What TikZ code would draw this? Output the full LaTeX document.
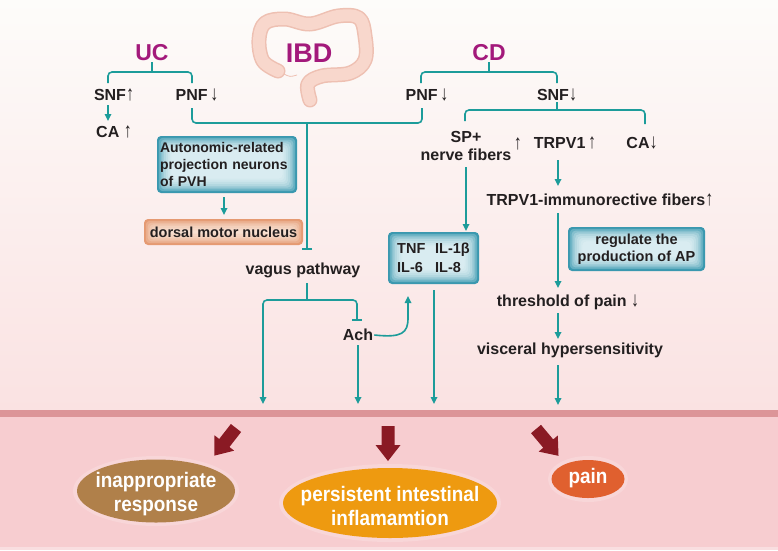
\documentclass[tikz,border=0pt]{standalone}
\usepackage{graphicx}
\usepackage{fontspec}
\setmainfont{Liberation Sans}
\newfontfamily\narrowfont[FakeStretch=0.9]{Liberation Sans}
\usetikzlibrary{arrows.meta,calc,shapes.geometric}
\newcommand\myup{\scalebox{1}[1.3]{↑}}
\newcommand\mydown{\scalebox{1}[1.3]{↓}}
\definecolor{teal1}{HTML}{1C9C9A}
\definecolor{mag}{HTML}{A3197B}
\definecolor{txt}{HTML}{231F20}
\definecolor{darkred}{HTML}{8A1A24}
\definecolor{boxout}{HTML}{3A98AF}
\definecolor{boxin}{HTML}{F0F9FB}
\definecolor{orout}{HTML}{E59A72}
\definecolor{orin}{HTML}{FCEDE2}
\definecolor{bgtop}{HTML}{FDFCFA}
\definecolor{bgmid}{HTML}{F7EBE5}
\definecolor{bgbot}{HTML}{FAE2E2}
\definecolor{lowbg}{HTML}{F7CDD0}
\definecolor{band}{HTML}{DC9598}
\definecolor{colonf}{HTML}{F8D7CC}
\definecolor{colone}{HTML}{EEC0B2}
\definecolor{brownell}{HTML}{B0804A}
\definecolor{orangeell}{HTML}{EE9A10}
\definecolor{painell}{HTML}{E0602F}
\tikzset{
  bigarrow/.pic={\fill[darkred] (-6.5,0) -- (6.5,0) -- (6.5,19) -- (12.5,19) -- (0,35) -- (-12.5,19) -- (-6.5,19) -- cycle;},
  glowbox/.style n args={2}{rounded corners=4pt, fill=#1,
    path picture={\foreach \i in {1,...,8}{\fill[#2, opacity=0.24, rounded corners=4pt] ([shift={(\i*1.8pt,\i*1.8pt)}]path picture bounding box.south west) rectangle ([shift={(-\i*1.8pt,-\i*1.8pt)}]path picture bounding box.north east);}}}
}
\begin{document}
\begin{tikzpicture}[x=1pt,y=-1pt,
  lbl/.style={font=\fontsize{16}{18}\selectfont\bfseries, text=txt, inner sep=1pt},
  ttl/.style={font=\fontsize{23}{26}\selectfont\bfseries, text=mag, inner sep=1pt},
  conn/.style={draw=teal1, line width=1.6pt, rounded corners=4pt},
  arr/.style={conn, -{Triangle[length=7pt,width=6.5pt]}},
  inh/.style={conn, -{Bar[width=10pt,line width=1.6pt]}},
  bluebox/.style={glowbox={boxout}{boxin}, font=\fontsize{14.5}{17}\selectfont\bfseries, text=txt},
  orbox/.style={glowbox={orout}{orin}, font=\fontsize{14.5}{17}\selectfont\bfseries, text=txt},
  ell/.style={ellipse, inner sep=0pt},
  outtxt/.style={text=white, font=\narrowfont\fontsize{21}{24}\selectfont\bfseries, align=center, inner sep=0pt},
]
\useasboundingbox (0,0) rectangle (778,550);
% background
\shade[top color=bgtop, middle color=bgmid, bottom color=bgbot] (0,0) rectangle (778,410);
\fill[lowbg] (0,410) rectangle (778,550);
\fill[band] (0,410) rectangle (778,417);
\fill[white, opacity=0.35] (0,547) rectangle (778,550);

% colon
\draw[colone, line width=15pt, line cap=round, line join=round] plot[smooth, tension=0.6] coordinates {(278,71) (263,61) (259,40) (265,23) (285,19) (310,24) (338,16) (359,18) (365,36) (365,60) (350,73) (322,76) (308,84) (310,100)};
\draw[colonf, line width=12pt, line cap=round, line join=round] plot[smooth, tension=0.6] coordinates {(278,71) (263,61) (259,40) (265,23) (285,19) (310,24) (338,16) (359,18) (365,36) (365,60) (350,73) (322,76) (308,84) (310,100)};
\draw[colone, line width=0.8pt] (284,74) .. controls (290,77) .. (297,75);

% titles
\node[ttl, font=\fontsize{27}{30}\selectfont\bfseries] (ibd) at (309,53) {IBD};
\node[ttl] (uc) at (152,53) {UC};
\node[ttl] (cd) at (489,53) {CD};

% UC branch
\node[lbl] (ucsnf) at (114,95) {SNF\myup};
\node[lbl] (ucpnf) at (197,95) {PNF\,\mydown};
\node[lbl] (ucca) at (114,132) {CA \myup};
\node[bluebox, font=\fontsize{14}{17}\selectfont\bfseries, align=left, text width=134pt, inner xsep=3pt, minimum height=57pt] (pvh) at (227,164.5) {Autonomic-related\\projection neurons\\of PVH};
\node[orbox, minimum width=159pt, minimum height=26pt] (dmn) at (223.5,232) {dorsal motor nucleus};

% center
\node[lbl] (vagus) at (303,270) {vagus pathway};
\node[lbl] (ach) at (358,335) {Ach};
\node[bluebox, font=\fontsize{14.5}{19}\selectfont\bfseries, align=left, minimum width=91pt, minimum height=52pt] (cyt) at (433.5,258) {\makebox[38pt][l]{TNF}IL-1β\\\makebox[38pt][l]{IL-6}IL-8};

% CD branch
\node[lbl] (cdpnf) at (427,95) {PNF\,\mydown};
\node[lbl] (cdsnf) at (557,95) {SNF\mydown};
\node[lbl, align=center, inner sep=0pt] (sp) at (466,146) {SP+\\nerve fibers};
\node[lbl, inner sep=0pt, anchor=west] (sparr) at ([xshift=2pt,yshift=2pt]sp.east) {\myup};
\node[lbl] (trpv) at (565,143) {TRPV1\,\myup};
\node[lbl] (cdca) at (642,143) {CA\mydown};
\node[lbl] (trpvf) at (600,200) {TRPV1-immunorective fibers\myup};
\node[bluebox, align=center, minimum width=137pt, minimum height=44pt] (ap) at (636.5,249) {regulate the\\production of AP};
\node[lbl] (thr) at (568,302) {threshold of pain \mydown};
\node[lbl] (vis) at (570,350) {visceral hypersensitivity};

% connectors UC
\draw[conn] (uc.south) -- (152,72);
\draw[conn] (108,83) |- (152,72) -| (192,83);
\draw[arr] (108,105) -- (108,121);
\draw[conn] (192,108) |- (307,123) -| (422,108);
\draw[inh] (307,123) -- (307,250);
\draw[arr] (224,197) -- (224,215);
% vagus
\draw[conn] (307,283) -- (307,300);
\draw[arr] (307,300) -| (263,404);
\draw[inh] (307,300) -| (357,321);
\draw[arr] (358,345) -- (358,404);
\draw[arr, rounded corners=0pt] (ach.east) .. controls (402,338) and (408,333) .. (408,318) -- (408,296);
\draw[arr] (434,290) -- (434,404);
% CD
\draw[conn] (cd.south) -- (489,72);
\draw[conn] (421,83) |- (489,72) -| (557,83);
\draw[conn] (557,102) -- (557,110);
\draw[conn] (465,121) |- (557,110) -| (645,124);
\draw[arr] (466,167) -- (466,231);
\draw[arr] (558,160) -- (558,186);
\draw[arr] (558,213) -- (558,288);
\draw[arr] (558,313) -- (558,339);
\draw[arr] (558,365) -- (558,405);

% outcome arrows
\pic[rotate=-38] at (236,428) {bigarrow};
\pic at (388,426) {bigarrow};
\pic[rotate=40] at (536,429) {bigarrow};

% outcomes
\fill[white, opacity=0.18] (156,491) ellipse [x radius=83, y radius=35];
\fill[white, opacity=0.18] (390,503) ellipse [x radius=111, y radius=39];
\fill[white, opacity=0.18] (588,479) ellipse [x radius=40, y radius=23];
\node[ell, fill=brownell, minimum width=158pt, minimum height=63pt] (inappE) at (156,491) {};
\node[ell, fill=orangeell, minimum width=214pt, minimum height=70pt] (persE) at (390,503) {};
\node[ell, fill=painell, minimum width=73pt, minimum height=38pt] (painE) at (588,479) {};
\node[outtxt] (inapp) at (156,494) {inappropriate\\response};
\node[outtxt] (pers) at (390,505.5) {persistent intestinal\\inflamamtion};
\node[outtxt] (pain) at (588,478) {pain};
\end{tikzpicture}
\end{document}
